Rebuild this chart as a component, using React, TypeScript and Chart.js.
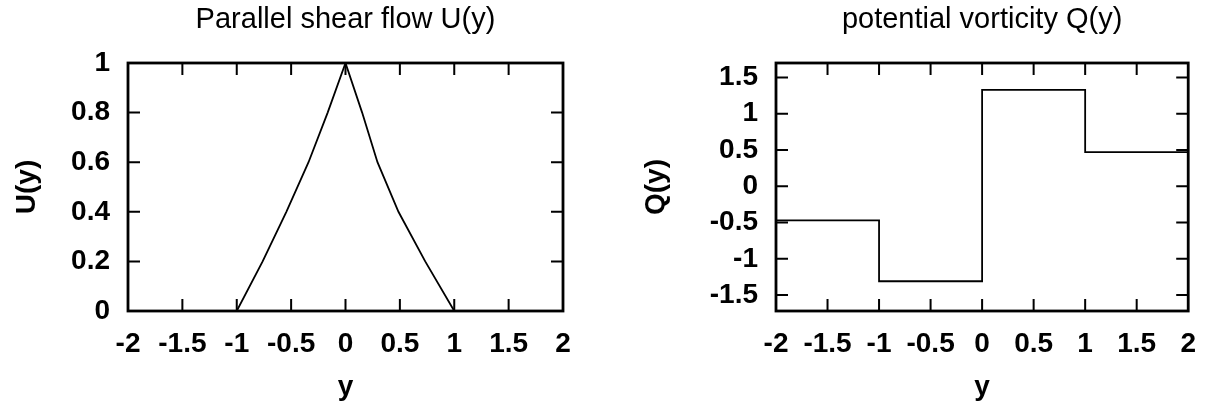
import React, { useEffect, useRef } from 'react';
import { Chart, registerables } from 'chart.js';

Chart.register(...registerables);

// ---- data ----
const X_TICKS = [-2, -1.5, -1, -0.5, 0, 0.5, 1, 1.5, 2];
const U_TICKS = [0, 0.2, 0.4, 0.6, 0.8, 1];
const Q_TICKS = [-1.5, -1, -0.5, 0, 0.5, 1, 1.5];

const U_Y_POS = [-2, -1, -0.762, -0.544, -0.34, -0.164, 0, 0.153, 0.294, 0.487, 0.733, 1, 2];
const U_VALUES = [0, 0, 0.2, 0.4, 0.6, 0.8, 1, 0.8, 0.6, 0.4, 0.2, 0, 0];

const Q_Y_POS = [-2, -1, 0, 1, 2];
const Q_VALUES = [-0.47, -1.31, 1.33, 0.47, 0.47];

const TITLES = ['Parallel shear flow U(y)', 'potential vorticity Q(y)'];
const Y_TITLES = ['U(y)', 'Q(y)'];
const X_TITLE = 'y';

const FAMILY = '"Liberation Sans", Arial, Helvetica, sans-serif';
const TICK_SIZE = 28;
const TITLE_SIZE = 29;

const framePlugin = {
  id: 'frameTitle',
  afterDraw(chart: any, _args: any, opts: any) {
    const { ctx, chartArea: a, scales } = chart;
    const L = 12;
    ctx.save();
    ctx.strokeStyle = '#000';
    ctx.lineWidth = 2;
    ctx.beginPath();
    scales.x.ticks.forEach((t: any) => {
      const px = scales.x.getPixelForValue(t.value);
      if (px - a.left < 2 || a.right - px < 2) return;
      ctx.moveTo(px, a.bottom);
      ctx.lineTo(px, a.bottom - L);
      ctx.moveTo(px, a.top);
      ctx.lineTo(px, a.top + L);
    });
    scales.y.ticks.forEach((t: any) => {
      const py = scales.y.getPixelForValue(t.value);
      if (py - a.top < 2 || a.bottom - py < 2) return;
      ctx.moveTo(a.left, py);
      ctx.lineTo(a.left + L, py);
      ctx.moveTo(a.right, py);
      ctx.lineTo(a.right - L, py);
    });
    ctx.stroke();
    ctx.lineWidth = 2.8;
    ctx.strokeRect(a.left, a.top, a.right - a.left, a.bottom - a.top);
    if (opts && opts.text) {
      ctx.fillStyle = '#000';
      ctx.font = `${TITLE_SIZE}px ${FAMILY}`;
      ctx.textAlign = 'center';
      ctx.textBaseline = 'middle';
      ctx.fillText(opts.text, (a.left + a.right) / 2, opts.y);
    }
    ctx.restore();
  },
};

function makeConfig(p: any): any {
  const tickFont = { family: FAMILY, size: TICK_SIZE, weight: 'bold' as const };
  return {
    type: 'line',
    data: {
      datasets: [
        {
          data: p.xs.map((x: number, i: number) => ({ x, y: p.ys[i] })),
          borderColor: '#000',
          borderWidth: 1.8,
          pointRadius: 0,
          tension: 0,
          fill: false,
          stepped: p.stepped ? 'before' : false,
        },
      ],
    },
    options: {
      animation: false,
      responsive: false,
      maintainAspectRatio: false,
      layout: { padding: { left: 0, top: 63, right: p.padRight, bottom: 0 } },
      plugins: {
        legend: { display: false },
        tooltip: { enabled: false },
        title: { display: false },
        frameTitle: { text: p.title, y: 20 },
      },
      scales: {
        x: {
          type: 'linear',
          min: -2,
          max: 2,
          afterBuildTicks: (s: any) => {
            s.ticks = X_TICKS.map((v) => ({ value: v }));
          },
          afterFit: (s: any) => {
            s.height = 94;
          },
          grid: { display: false, drawTicks: false },
          border: { display: false },
          ticks: {
            padding: 16,
            font: tickFont,
            color: '#000',
            maxRotation: 0,
            autoSkip: false,
            callback: (v: any) => String(v),
          },
          title: {
            display: true,
            text: X_TITLE,
            font: tickFont,
            color: '#000',
            padding: { top: 0, bottom: 1 },
          },
        },
        y: {
          type: 'linear',
          min: p.yMin,
          max: p.yMax,
          afterBuildTicks: (s: any) => {
            s.ticks = p.yTicks.map((v: number) => ({ value: v }));
          },
          afterFit: (s: any) => {
            s.width = p.yWidth;
          },
          grid: { display: false, drawTicks: false },
          border: { display: false },
          ticks: {
            padding: 18,
            font: tickFont,
            color: '#000',
            autoSkip: false,
            callback: (v: any) => String(v),
          },
          title: {
            display: true,
            text: p.yTitle,
            font: tickFont,
            color: '#000',
            padding: { top: p.yTitlePad, bottom: 0 },
          },
        },
      },
    },
    plugins: [framePlugin],
  };
}

function ChartCanvas({ cfg, left }: { cfg: any; left: number }) {
  const ref = useRef<HTMLCanvasElement | null>(null);
  useEffect(() => {
    if (!ref.current) return;
    const chart = new Chart(ref.current, makeConfig(cfg));
    return () => chart.destroy();
  }, []);
  return (
    <canvas
      ref={ref}
      width={606}
      height={405}
      style={{ position: 'absolute', left, top: 0, width: 606, height: 405, display: 'block' }}
    />
  );
}

export default function App() {
  const leftCfg = {
    xs: U_Y_POS,
    ys: U_VALUES,
    stepped: false,
    yMin: 0,
    yMax: 1,
    yTicks: U_TICKS,
    yWidth: 128,
    padRight: 43,
    title: TITLES[0],
    yTitle: Y_TITLES[0],
    yTitlePad: 10,
  };
  const rightCfg = {
    xs: Q_Y_POS,
    ys: Q_VALUES,
    stepped: true,
    yMin: -1.72,
    yMax: 1.7,
    yTicks: Q_TICKS,
    yWidth: 170,
    padRight: 20,
    title: TITLES[1],
    yTitle: Y_TITLES[1],
    yTitlePad: 33,
  };
  return (
    <div style={{ position: 'absolute', left: 0, top: 0, width: 1212, height: 405, background: '#fff' }}>
      <ChartCanvas cfg={leftCfg} left={0} />
      <ChartCanvas cfg={rightCfg} left={606} />
    </div>
  );
}
